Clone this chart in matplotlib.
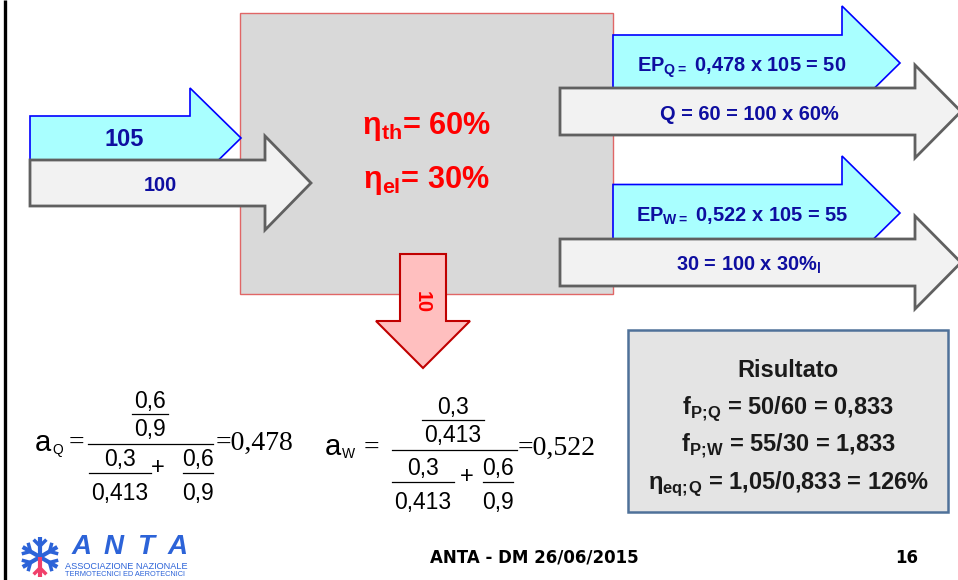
import matplotlib
matplotlib.use('Agg')
import numpy as np
import matplotlib.pyplot as plt
from matplotlib import font_manager
from matplotlib.patches import FancyArrow, Rectangle

# fonts: Arial-like; a narrow variant for the arrow labels if there is one
names = {f.name for f in font_manager.fontManager.ttflist}
HAS_NARROW = 'Liberation Sans Narrow' in names
NARROW = 'Liberation Sans Narrow' if HAS_NARROW else 'Liberation Sans'
NARROW_SCALE = 1.0 if HAS_NARROW else 0.85  # regular Arial is ~18% wider
SANS = 'Liberation Sans'
SERIF = 'Liberation Serif'
plt.rcParams['mathtext.fontset'] = 'custom'
plt.rcParams['mathtext.sf'] = NARROW + ':bold'
plt.rcParams['mathtext.bf'] = SANS + ':bold'
plt.rcParams['mathtext.rm'] = SANS

# --- slide content ---
input_labels = ['105', '100']
eta_labels = [r'η$_{\mathsf{th}}$= 60%', r'η$_{\mathsf{el}}$= 30%']
loss_label = '10'
output_labels = [r'EP$_{\mathsf{Q=}}$ 0,478 x 105 = 50',
                 'Q = 60 = 100 x 60%',
                 r'EP$_{\mathsf{W=}}$ 0,522 x 105 = 55',
                 r'30 = 100 x 30%$_{\mathsf{l}}$']

# allocation factors a = (eta/f) / sum(eta/f)
fraction_terms = [('0,3', '0,413'), ('0,6', '0,9')]
aQ_numerator = ('0,6', '0,9')
aW_numerator = ('0,3', '0,413')
aQ_value = '0,478'
aW_value = '0,522'

result_title = 'Risultato'
result_lines = [r'f$_{\mathbf{P;\!Q}}$ = 50/60 = 0,833',
                r'f$_{\mathbf{P;\!W}}$ = 55/30 = 1,833',
                r'η$_{\mathbf{eq;\!Q}}$ = 1,05/0,833 = 126%']

footer = 'ANTA - DM 26/06/2015'
page = '16'
logo_name = 'ANTA'
logo_lines = ['ASSOCIAZIONE NAZIONALE', 'TERMOTECNICI ED AEROTECNICI']

# --- colours ---
CYAN, BLUE_EDGE = '#a9ffff', '#0000ff'
GREY_FILL, GREY_EDGE = '#f2f2f2', '#606060'
NAVY = '#0e0ea0'
RED = '#ff0000'

fig = plt.figure(figsize=(9.58, 5.8), dpi=100)
ax = fig.add_axes([0, 0, 1, 1])
ax.set_xlim(0, 958)
ax.set_ylim(580, 0)
ax.axis('off')

PX = 100 / 72  # pixels per point


def label(x, yc, s, size, frac=0.358, **kw):
    # yc = visual centre of the capitals, placed via the baseline
    kw.setdefault('ha', 'center')
    ax.text(x, yc + frac * size * PX, s, fontsize=size, va='baseline', **kw)


def right_arrow(x0, x1, yc, body, head, head_len, fc, ec, lw, z):
    ax.add_patch(FancyArrow(x0, yc, x1 - x0, 0, width=body, head_width=head,
                            head_length=head_len, length_includes_head=True,
                            fc=fc, ec=ec, lw=lw, zorder=z, joinstyle='miter'))


# left slide border
ax.plot([5, 5], [0, 580], color='black', lw=2.4, solid_capstyle='butt')

# plant box
ax.add_patch(Rectangle((240, 13), 373, 281, fc='#d9d9d9', ec='#e06666', lw=1, zorder=1))

# input arrows
right_arrow(30, 241, 138, 44, 100, 51, CYAN, BLUE_EDGE, 1.2, 2)
right_arrow(30, 311, 183, 46, 94, 46, GREY_FILL, GREY_EDGE, 2, 3)
label(124, 138, input_labels[0], 17, family=SANS, weight='bold', color=NAVY, zorder=6)
label(160, 184, input_labels[1], 17 * NARROW_SCALE, family=NARROW, weight='bold',
      color=NAVY, zorder=6)

# efficiencies
for yc, s in zip([123, 177], eta_labels):
    label(426, yc, s, 26 * NARROW_SCALE, family=[NARROW, 'DejaVu Sans'], weight='bold',
          color=RED, zorder=6)

# output arrows
right_arrow(613, 900, 63, 56, 114, 58, CYAN, BLUE_EDGE, 1.2, 2)
right_arrow(560, 961, 111.5, 47, 93, 46, GREY_FILL, GREY_EDGE, 2, 3)
right_arrow(613, 900, 213, 57, 114, 58, CYAN, BLUE_EDGE, 1.2, 2)
right_arrow(560, 961, 262.5, 47, 93, 46, GREY_FILL, GREY_EDGE, 2, 3)
for (x, yc), s in zip([(742, 65), (749, 112.5), (742, 215), (749, 263.5)], output_labels):
    label(x, yc, s, 17 * NARROW_SCALE, family=NARROW, weight='bold', color=NAVY, zorder=6)

# losses
ax.add_patch(FancyArrow(423, 254, 0, 114, width=46, head_width=94, head_length=47,
                        length_includes_head=True, fc='#ffbfbf', ec='#c00000',
                        lw=1.5, zorder=3, joinstyle='miter'))
ax.text(422, 302, loss_label, fontsize=17 * NARROW_SCALE, family=NARROW, weight='bold',
        color=RED, rotation=-90, ha='center', va='center', zorder=6)


# formulas
def formula(xa, ya, sub, xeq, bar, num_x, num, den_y, terms_x, plus_x, value_x, value, yc):
    # bar = (x0, x1, y) of the main fraction line
    ax.text(xa, ya, 'a', fontsize=21, family=SANS, ha='left', va='baseline')
    ax.text(xa + 17, ya + 3, sub, fontsize=10, family=SANS, ha='left', va='baseline')
    label(xeq, yc, '=', 20, frac=0.25, family=SERIF)
    ax.plot([bar[0], bar[1]], [bar[2], bar[2]], color='black', lw=0.9)
    top_n, bot_n = num
    label(num_x, bar[2] - 44, top_n, 16.5, family=SANS)
    w = 36 if len(bot_n) <= 3 else 62
    ax.plot([num_x - w / 2, num_x + w / 2], [bar[2] - 30] * 2, color='black', lw=0.9)
    label(num_x, bar[2] - 16, bot_n, 16.5, family=SANS)
    for tx, (tn, td) in zip(terms_x, fraction_terms):
        w = 30 if len(td) <= 3 else 62
        label(tx, den_y - 15, tn, 16.5, family=SANS)
        ax.plot([tx - w / 2, tx + w / 2], [den_y, den_y], color='black', lw=0.9)
        label(tx, den_y + 19, td, 16.5, family=SANS)
    label(plus_x, den_y - 6, '+', 17, frac=0.3, family=SANS)
    ax.text(value_x, yc + 0.25 * 20 * PX, '=' + value, fontsize=20, family=SERIF,
            ha='left', va='baseline')


formula(35, 451, 'Q', 76, (88, 213, 444), 150, aQ_numerator, 473,
        [120, 198], 158, 216, aQ_value, 443)
formula(325, 455, 'W', 371, (392, 517, 450), 453, aW_numerator, 482,
        [423, 498], 467, 518, aW_value, 448)

# result box
ax.add_patch(Rectangle((628, 330), 320, 182, fc='#e4e4e4', ec='#4f7199', lw=1.8, zorder=1))
label(788, 368.5, result_title, 17, family=SANS, weight='bold', color='#1a1a1a', zorder=6)
for yc, s in zip([405.5, 442.5, 480.5], result_lines):
    label(788, yc, s, 17, family=[SANS, 'DejaVu Sans'], weight='bold', color='#1a1a1a', zorder=6)

# footer
label(430, 557, footer, 12, ha='left', family='DejaVu Sans', weight='bold', color='black')
label(907, 557, page, 12, family='DejaVu Sans', weight='bold', color='black')

# logo
LOGO_BLUE, LOGO_PINK = '#2c63d8', '#f0406a'
for i, ch in enumerate(logo_name):
    label(82 + 32 * i, 544, ch, 20, family=SANS, weight='heavy', style='italic',
          color=LOGO_BLUE, zorder=5)
label(65, 565.5, logo_lines[0], 6.6, ha='left', family=SANS, color=LOGO_BLUE)
label(65, 573, logo_lines[1], 5.3, ha='left', family=SANS, color=LOGO_BLUE)
cx, cy, r = 40, 557, 20
for ang in [90, 30, 150, 210, 330, 270]:
    col = LOGO_PINK if ang == 270 else LOGO_BLUE
    t = np.deg2rad(ang)
    ex, ey = cx + r * np.cos(t), cy - r * np.sin(t)
    ax.plot([cx, ex], [cy, ey], color=col, lw=3, solid_capstyle='butt', zorder=5)
    for d in (-1, 1):
        t2 = t + d * np.deg2rad(45)
        mx, my = cx + 0.55 * r * np.cos(t), cy - 0.55 * r * np.sin(t)
        ax.plot([mx, mx + 0.45 * r * np.cos(t2)], [my, my - 0.45 * r * np.sin(t2)],
                color=col, lw=2.5, solid_capstyle='butt', zorder=5)

fig.savefig('out.png', dpi=100, facecolor='white')
